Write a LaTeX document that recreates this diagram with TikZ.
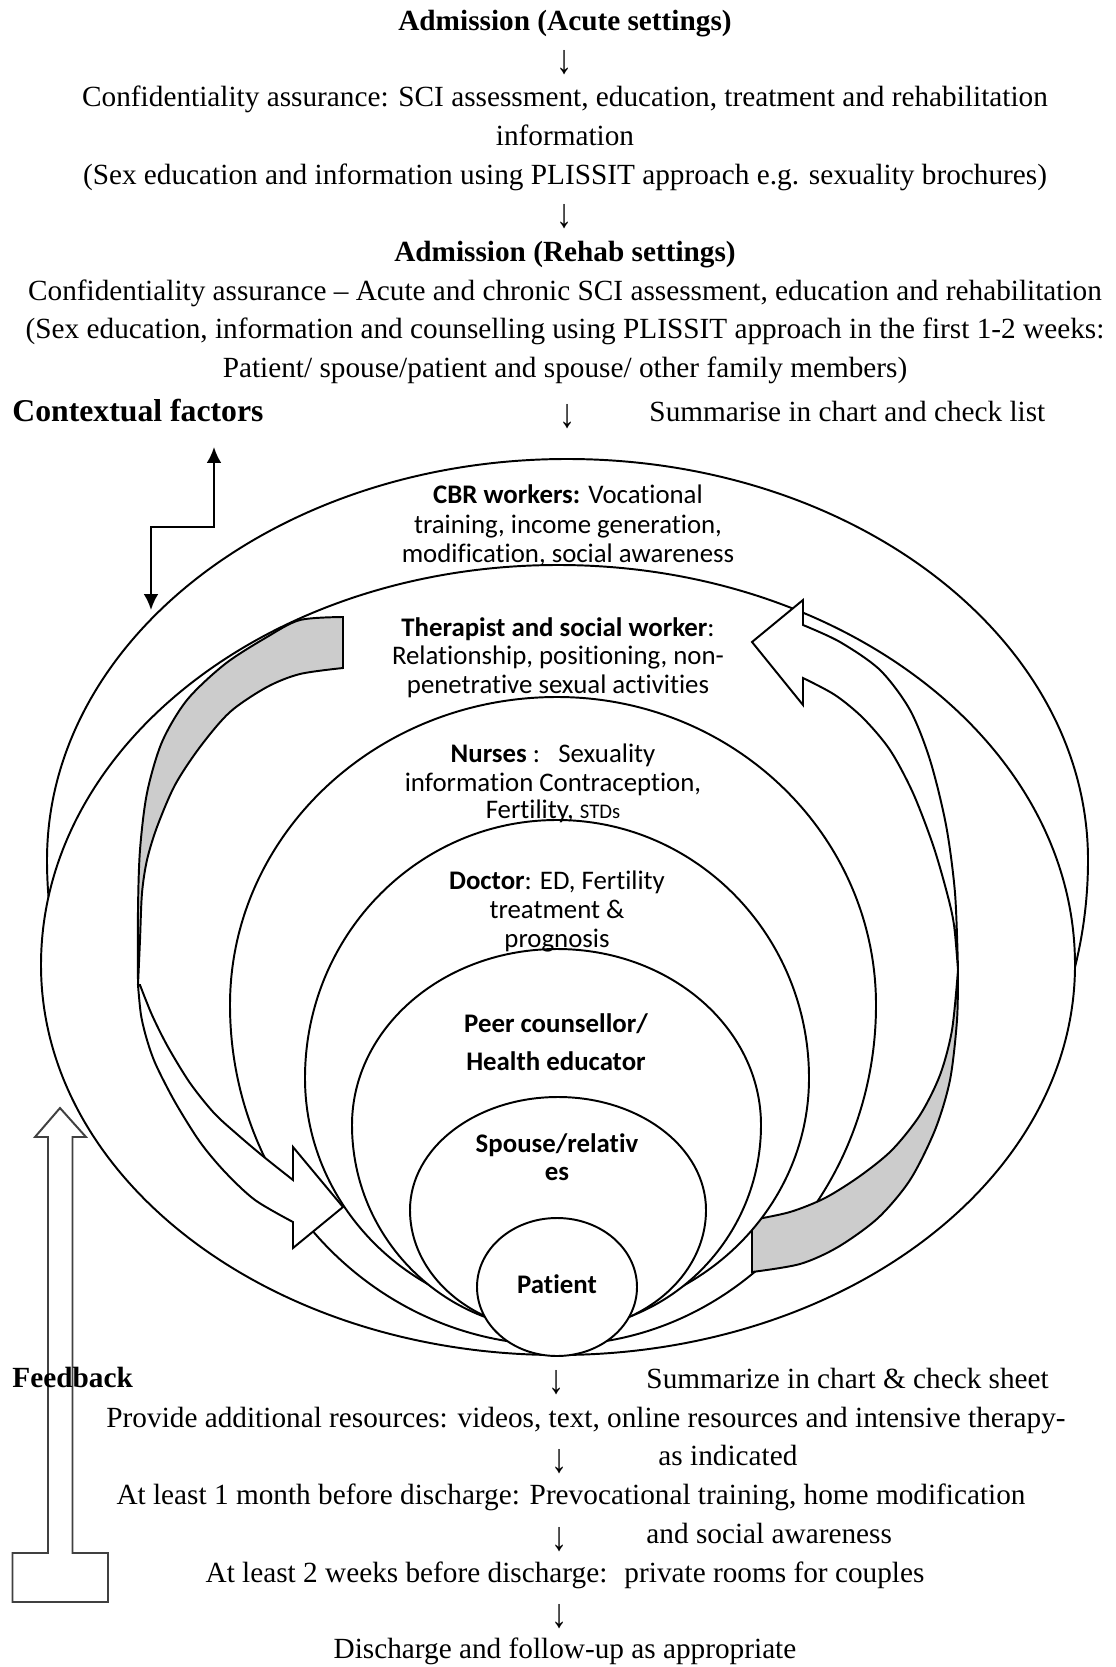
\documentclass[tikz,border=0pt]{standalone}
\usepackage{fontspec}
\setmainfont{Liberation Serif}
\newfontfamily\calib[Ligatures=NoCommon]{Carlito}
\usetikzlibrary{arrows.meta}
% egg-shaped ring: style, cx, cy, r-left, r-right, r-top, r-bottom
\newcommand\drawegg[7]{%
  \draw[#1] (#2-#4,#3)
    arc[start angle=180,end angle=270,x radius=#4,y radius=#6]
    arc[start angle=270,end angle=360,x radius=#5,y radius=#6]
    arc[start angle=0,end angle=90,x radius=#5,y radius=#7]
    arc[start angle=90,end angle=180,x radius=#4,y radius=#7] -- cycle;}
\newcommand\darr{\scalebox{1.1}[1.4]{↓}}
\tikzset{
  ring/.style={draw=black, fill=white, line width=0.8pt},
  backband/.style={draw=black, fill=black!20, line width=0.8pt},
  frontband/.style={draw=black, fill=white, line width=0.8pt},
  fbk/.style={draw=black!75, line width=0.8pt},
  ctx/.style={draw=black, line width=0.8pt, {Latex[length=6.5pt,width=6pt]}-{Latex[length=6.5pt,width=6pt]}},
  serif/.style={font=\fontsize{12}{14}\selectfont, inner sep=0pt, anchor=base},
  serifL/.style={serif, anchor=base west},
  serifB/.style={serif, font=\bfseries\fontsize{12}{14}\selectfont},
  lay/.style={font=\calib\fontsize{11}{13}\selectfont, inner sep=0pt, anchor=base},
  layb/.style={lay, font=\calib\bfseries\fontsize{11}{13}\selectfont},
}
\begin{document}
\begin{tikzpicture}[x=0.41pt,y=-0.41pt]
\useasboundingbox (0,0) rectangle (1115,1667);

% ---------------- top text ----------------
\node[serifB] (h1) at (565,31) {Admission (Acute settings)};
\node[serif] (a1) at (565,74) {\darr};
\node[serif] (t1) at (565,107) {Confidentiality assurance: SCI assessment, education, treatment and rehabilitation};
\node[serif] (t2) at (565,146) {information};
\node[serif] (t3) at (565,185) {(Sex education and information using PLISSIT approach e.g. sexuality brochures)};
\node[serif] (a2) at (565,228) {\darr};
\node[serifB] (h2) at (565,262) {Admission (Rehab settings)};
\node[serif] (t4) at (565,301) {Confidentiality assurance – Acute and chronic SCI assessment, education and rehabilitation};
\node[serif] (t5) at (565,339) {(Sex education, information and counselling using PLISSIT approach in the first 1-2 weeks:};
\node[serif] (t6) at (565,378) {Patient/ spouse/patient and spouse/ other family members)};
\node[serif, anchor=base west, font=\bfseries\fontsize{13}{15}\selectfont] (ctxlabel) at (12,421) {Contextual factors};
\node[serif] (a3) at (568,427) {\darr};
\node[serifL] (sum1) at (649,421) {Summarise in chart and check list};

% ---------------- contextual factors connector ----------------
\coordinate (ctxA) at (214,447);
\coordinate (ctxB) at (151,610);
\draw[ctx] (ctxA) -- ++(0,80) -| (ctxB);

% ---------------- rings ----------------
\drawegg{ring}{567}{860}{520}{521}{401}{480}   % CBR workers
\drawegg{ring}{558}{965}{517}{517}{400}{390}   % therapist
\drawegg{ring}{557}{1005}{327}{319}{308}{340}  % nurses

% ---------------- curved arrows ----------------
% left arrow: back (grey) band
\draw[backband] plot[smooth] coordinates {(343,617) (300,620) (267,637) (225,664) (187,700) (162,742) (147,793) (140,850) (138,910) (138,985)}
  -- plot[smooth] coordinates {(138,985) (140,940) (142,893) (147,860) (157,827) (175,785) (200,747) (230,712) (267,687) (300,674) (343,668)} -- cycle;
% left arrow: front (white) band with head
\draw[frontband] plot[smooth] coordinates {(138,985) (141,1015) (147,1040) (156,1065) (175,1102) (200,1142) (225,1172) (255,1200) (293,1222)}
  -- (293,1248) -- (343,1207) -- (293,1147) -- (293,1180)
  -- plot[smooth] coordinates {(293,1180) (264,1157) (238,1135) (214,1113) (190,1083) (168,1047) (152,1015) (140,985)} -- cycle;
% right arrow: back (grey) band
\draw[backband] plot[smooth] coordinates {(958,970) (957,1020) (950,1080) (935,1130) (910,1180) (878,1218) (838,1247) (800,1264) (752,1272)}
  -- plot[smooth] coordinates {(752,1220) (790,1212) (825,1198) (860,1176) (892,1150) (920,1115) (940,1075) (952,1030) (958,970)} -- cycle;
% right arrow: front (white) band with head
\draw[frontband] plot[smooth] coordinates {(803,625) (840,642) (880,670) (910,710) (930,760) (946,825) (955,893) (958,970)}
  -- plot[smooth] coordinates {(958,970) (954,925) (947,893) (933,845) (913,793) (890,750) (863,718) (835,695) (803,678)}
  -- (803,705) -- (752,642) -- (803,600) -- cycle;

% ---------------- inner rings ----------------
\drawegg{ring}{557}{1078}{252}{252}{258}{240}  % doctor
\drawegg{ring}{557}{1125}{205}{204}{176}{205}  % peer counsellor
\drawegg{ring}{558}{1210}{148}{148}{113}{122}  % spouse
\draw[ring] (557,1287) ellipse [x radius=80, y radius=69]; % patient

% ---------------- ring texts ----------------
\node[lay] (cbr1) at (568,504) {\textbf{CBR workers:} Vocational};
\node[lay] (cbr2) at (568,533) {training, income generation,};
\node[lay] (cbr3) at (568,562) {modification, social awareness};
\node[lay] (th1) at (558,636) {\textbf{Therapist and social worker}:};
\node[lay] (th2) at (558,664) {Relationship, positioning, non-};
\node[lay] (th3) at (558,693) {penetrative sexual activities};
\node[lay] (nu1) at (553,762) {\textbf{Nurses} :\ \ \ Sexuality};
\node[lay] (nu2) at (553,791) {information Contraception,};
\node[lay] (nu3) at (553,818) {Fertility, {\fontsize{8.5}{10}\selectfont STDs}};
\node[lay] (do1) at (557,889) {\textbf{Doctor}: ED, Fertility};
\node[lay] (do2) at (557,918) {treatment \&};
\node[lay] (do3) at (557,947) {prognosis};
\node[layb] (pe1) at (556,1032) {Peer counsellor/};
\node[layb] (pe2) at (556,1070) {Health educator};
\node[layb] (sp1) at (557,1152) {Spouse/relativ};
\node[layb] (sp2) at (557,1180) {es};
\node[layb] (pat) at (557,1293) {Patient};

% ---------------- feedback arrow ----------------
\draw[fbk] (12.5,1602) -- (12.5,1553) -- (48,1553) -- (48,1137) -- (35,1137) -- (60,1108)
  -- (86,1137) -- (72.5,1137) -- (72.5,1553) -- (108,1553) -- (108,1602) -- cycle;

% ---------------- bottom text ----------------
\node[serif, anchor=base west, font=\bfseries\fontsize{12}{14}\selectfont] (fb) at (12,1387) {Feedback};
\node[serif] (a4) at (557,1393) {\darr};
\node[serifL] (sum2) at (646,1388) {Summarize in chart \& check sheet};
\node[serif] (b1) at (586,1427) {Provide additional resources: videos, text, online resources and intensive therapy-};
\node[serif] (a5) at (560,1472) {\darr};
\node[serifL] (b1b) at (658,1465) {as indicated};
\node[serif] (b2) at (571,1504) {At least 1 month before discharge: Prevocational training, home modification};
\node[serif] (a6) at (560,1550) {\darr};
\node[serifL] (b2b) at (646,1543) {and social awareness};
\node[serif] (b3) at (565,1582) {At least 2 weeks before discharge: \ private rooms for couples};
\node[serif] (a7) at (560,1627) {\darr};
\node[serif] (b4) at (565,1658) {Discharge and follow-up as appropriate};
\end{tikzpicture}
\end{document}
